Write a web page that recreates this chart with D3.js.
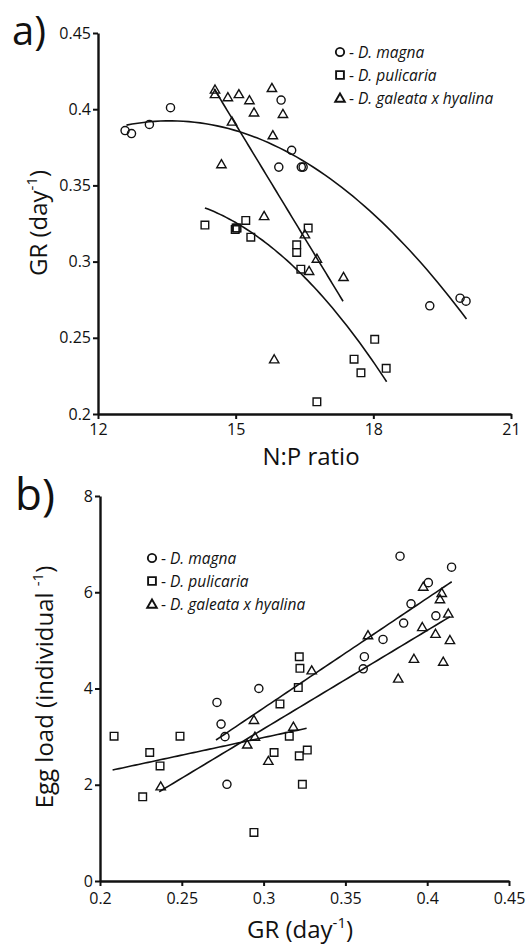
<!DOCTYPE html>
<html><head><meta charset="utf-8">
<script src="https://cdn.jsdelivr.net/npm/d3@7"></script>
<style>
body{margin:0;background:#fff}
text{font-family:"Open Sans",sans-serif;fill:#111}
</style>
</head><body>
<svg id="chart" width="527" height="944"></svg>
<script>
// ---------- Panel a: GR vs N:P ratio ----------
const aMagnaNP = [12.59,12.73,13.12,13.58,15.99,16.22,15.94,16.43,16.47,19.23,19.89,20.02];
const aMagnaGR = [0.386,0.384,0.390,0.401,0.406,0.373,0.362,0.362,0.362,0.271,0.276,0.274];
const aPulicariaNP = [14.33,14.99,15.01,15.03,15.22,15.33,16.58,16.33,16.33,16.42,18.03,17.58,17.73,18.28,16.77];
const aPulicariaGR = [0.324,0.321,0.322,0.322,0.327,0.316,0.322,0.311,0.306,0.295,0.249,0.236,0.227,0.230,0.208];
const aGaleataNP = [14.55,14.55,14.83,15.07,15.30,15.40,15.79,16.03,14.92,15.81,14.69,15.62,16.51,16.77,16.60,17.35,15.84];
const aGaleataGR = [0.413,0.410,0.408,0.410,0.406,0.398,0.414,0.397,0.392,0.383,0.364,0.330,0.318,0.302,0.294,0.290,0.236];
// fitted curves: polynomial coefficients [c0,c1,c2] and NP range
const aMagnaFit = [-0.1811, 0.08453, -0.003115];      const aMagnaFitRange = [12.62, 20.03];
const aPulicariaFit = [-0.40249, 0.11439, -0.00439];  const aPulicariaFitRange = [14.33, 18.29];
const aGaleataFit = [1.1342, -0.04961, 0];            const aGaleataFitRange = [14.53, 17.34];
const aXTicks = [12, 15, 18, 21];
const aYTicks = [0.2, 0.25, 0.3, 0.35, 0.4, 0.45];

// ---------- Panel b: Egg load vs GR ----------
const bMagnaGR = [0.2715,0.2740,0.2764,0.2776,0.2971,0.3609,0.3616,0.3730,0.3856,0.3901,0.3834,0.4007,0.4053,0.4149];
const bMagnaEgg = [3.71,3.26,3.00,2.01,4.00,4.41,4.66,5.02,5.36,5.76,6.75,6.20,5.51,6.52];
const bPulicariaGR = [0.2086,0.2304,0.2367,0.2261,0.2489,0.2941,0.3064,0.3100,0.3157,0.3212,0.3218,0.3222,0.3218,0.3267,0.3237];
const bPulicariaEgg = [3.01,2.67,2.39,1.75,3.01,1.01,2.67,3.68,3.01,4.02,4.66,4.42,2.60,2.72,2.01];
const bGaleataGR = [0.2371,0.2900,0.2947,0.2941,0.3029,0.3182,0.3294,0.3638,0.3823,0.3919,0.3970,0.3976,0.4051,0.4089,0.4078,0.4098,0.4129,0.4139];
const bGaleataEgg = [1.97,2.84,3.00,3.35,2.50,3.21,4.38,5.11,4.21,4.62,5.28,6.12,5.14,5.99,5.86,4.56,5.56,5.01];
const bMagnaFit = [-3.252, 22.82];      const bMagnaFitRange = [0.2709, 0.4150];
const bPulicariaFit = [0.788, 7.31];    const bPulicariaFitRange = [0.2077, 0.3263];
const bGaleataFit = [-2.977, 20.46];    const bGaleataFitRange = [0.2362, 0.4139];
const bXTicks = [0.2, 0.25, 0.3, 0.35, 0.4, 0.45];
const bYTicks = [0, 2, 4, 6, 8];

const legendNames = ["D. magna", "D. pulicaria", "D. galeata x hyalina"];
const symbolTypes = [d3.symbolCircle, d3.symbolSquare, d3.symbolTriangle];
const symbolSizes = [52, 58, 38];

const svg = d3.select("#chart");

function poly(c, x){ return c.reduce((s, ci, i) => s + ci * Math.pow(x, i), 0); }

function drawPanel(opt){
  const g = svg.append("g");
  const x = d3.scaleLinear().domain(opt.xDomain).range(opt.xRange);
  const y = d3.scaleLinear().domain(opt.yDomain).range(opt.yRange);

  const xAxis = g.append("g").attr("transform", `translate(0,${opt.yRange[0]})`)
    .call(d3.axisBottom(x).tickValues(opt.xTicks).tickSize(5).tickSizeOuter(0).tickPadding(opt.xPad).tickFormat(d3.format("")));
  const yAxis = g.append("g").attr("transform", `translate(${opt.xRange[0]},0)`)
    .call(d3.axisLeft(y).tickValues(opt.yTicks).tickSize(5).tickSizeOuter(0).tickPadding(2).tickFormat(d3.format("")));
  [xAxis, yAxis].forEach(ax => {
    ax.selectAll("path.domain").attr("stroke", "#111").attr("stroke-width", 2.4);
    ax.selectAll(".tick line").attr("stroke", "#111").attr("stroke-width", 2);
    ax.selectAll(".tick text").attr("font-size", 16).attr("fill", "#111").attr("font-family", "Open Sans");
  });

  // fit lines
  const line = d3.line().x(d => x(d[0])).y(d => y(d[1]));
  opt.fits.forEach(f => {
    const pts = d3.range(0, 61).map(i => {
      const xv = f.range[0] + (f.range[1] - f.range[0]) * i / 60;
      return [xv, poly(f.coef, xv)];
    });
    g.append("path").datum(pts).attr("d", line)
      .attr("fill", "none").attr("stroke", "#111").attr("stroke-width", 1.6);
  });

  // points
  opt.series.forEach((s, si) => {
    const sym = d3.symbol().type(symbolTypes[si]).size(symbolSizes[si]);
    g.append("g").selectAll("path").data(s.xs.map((v, i) => [v, s.ys[i]])).join("path")
      .attr("d", sym)
      .attr("transform", d => `translate(${x(d[0])},${y(d[1]) + (si === 2 ? 1 : 0)})`)
      .attr("fill", "none").attr("stroke", "#111").attr("stroke-width", 1.4);
  });

  // legend
  legendNames.forEach((name, i) => {
    const ly = opt.legend[1] + i * opt.legendGap;
    const sym = d3.symbol().type(symbolTypes[i]).size(symbolSizes[i] * 1.05);
    g.append("path").attr("d", sym)
      .attr("transform", `translate(${opt.legend[0]},${ly + (i === 2 ? 1 : 0)})`)
      .attr("fill", "none").attr("stroke", "#111").attr("stroke-width", 1.9);
    const t = g.append("text").attr("x", opt.legend[0] + 9).attr("y", ly + 5.5).attr("font-size", 15.5);
    t.append("tspan").text("- ");
    t.append("tspan").attr("font-style", "italic").text(name);
  });

  // axis titles
  const xt = g.append("text").attr("x", opt.xTitle[0]).attr("y", opt.xTitle[1])
    .attr("text-anchor", "middle").attr("font-size", 24);
  opt.xTitleParts.forEach(p => {
    const ts = xt.append("tspan").text(p.t);
    if (p.sup) ts.attr("font-size", 15).attr("baseline-shift", "super");
  });
  const yt = g.append("text").attr("transform", `translate(${opt.yTitle[0]},${opt.yTitle[1]}) rotate(-90)`)
    .attr("text-anchor", "middle").attr("font-size", 24);
  opt.yTitleParts.forEach(p => {
    const ts = yt.append("tspan").text(p.t);
    if (p.sup) ts.attr("font-size", 15).attr("baseline-shift", "super");
  });

  g.append("text").attr("x", opt.label[0]).attr("y", opt.label[1])
    .attr("font-size", opt.label[2]).text(opt.labelText);
}

drawPanel({
  xDomain: [12, 21], xRange: [98, 511],
  yDomain: [0.2, 0.45], yRange: [414, 33],
  xTicks: aXTicks, yTicks: aYTicks, xPad: 5,
  series: [
    {xs: aMagnaNP, ys: aMagnaGR},
    {xs: aPulicariaNP, ys: aPulicariaGR},
    {xs: aGaleataNP, ys: aGaleataGR}
  ],
  fits: [
    {coef: aMagnaFit, range: aMagnaFitRange},
    {coef: aPulicariaFit, range: aPulicariaFitRange},
    {coef: aGaleataFit, range: aGaleataFitRange}
  ],
  legend: [340, 52], legendGap: 23,
  xTitle: [311, 465], xTitleParts: [{t: "N:P ratio"}],
  yTitle: [47, 223], yTitleParts: [{t: "GR (day"}, {t: "-1", sup: true}, {t: ")"}],
  label: [12, 45, 40], labelText: "a)"
});

drawPanel({
  xDomain: [0.2, 0.45], xRange: [100, 509],
  yDomain: [0, 8], yRange: [881, 496],
  xTicks: bXTicks, yTicks: bYTicks, xPad: 7,
  series: [
    {xs: bMagnaGR, ys: bMagnaEgg},
    {xs: bPulicariaGR, ys: bPulicariaEgg},
    {xs: bGaleataGR, ys: bGaleataEgg}
  ],
  fits: [
    {coef: bMagnaFit, range: bMagnaFitRange},
    {coef: bPulicariaFit, range: bPulicariaFitRange},
    {coef: bGaleataFit, range: bGaleataFitRange}
  ],
  legend: [152, 558], legendGap: 23,
  xTitle: [300, 938], xTitleParts: [{t: "GR (day"}, {t: "-1", sup: true}, {t: ")"}],
  yTitle: [53, 687], yTitleParts: [{t: "Egg load (individual "}, {t: "-1", sup: true}, {t: ")"}],
  label: [15, 510, 44], labelText: "b)"
});
</script>
</body></html>
